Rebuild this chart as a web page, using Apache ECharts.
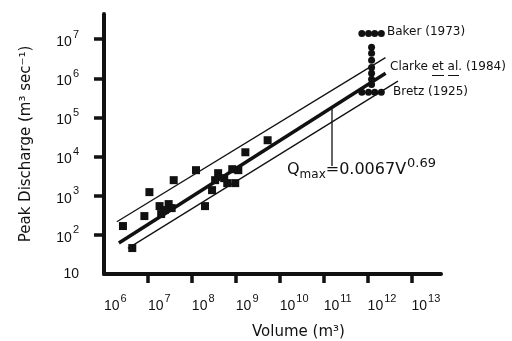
<!DOCTYPE html>
<html><head><meta charset="utf-8">
<script src="https://cdn.jsdelivr.net/npm/echarts@6/dist/echarts.min.js"></script>
<style>html,body{margin:0;padding:0;background:#fff}#c{width:512px;height:341px}</style>
</head><body><div id="c"></div>
<script>
// Flood data points (volume m^3, peak discharge m^3/s)
const pointVolumes = [2.7e6, 4.4e6, 8.3e6, 1.08e7, 1.84e7, 2.4e7, 2.96e7, 3.47e7, 2.0e7, 3.86e7, 1.24e8, 1.99e8, 2.88e8, 3.38e8, 3.96e8, 5.44e8, 6.38e8, 8.3e8, 1.14e9, 9.7e8, 1.65e9, 5.3e9];
const pointDischarges = [168, 46, 302, 1236, 543, 430, 611, 483, 340, 2500, 4500, 543, 1390, 2500, 3770, 2810, 2100, 4770, 4500, 2100, 12900, 26200];
// Missoula flood estimates
const bakerVolumes = [7.4e11, 1.05e12, 1.45e12, 2.05e12];
const bakerDischarges = [1.4e7, 1.4e7, 1.4e7, 1.4e7];
const clarkeVolumes = [1.23e12, 1.23e12, 1.23e12, 1.23e12, 1.23e12, 1.23e12, 1.23e12];
const clarkeDischarges = [6.2e6, 4.4e6, 2.9e6, 1.9e6, 1.35e6, 9.4e5, 7.0e5];
const bretzVolumes = [7.4e11, 1.05e12, 1.45e12, 2.05e12];
const bretzDischarges = [4.4e5, 4.4e5, 4.4e5, 4.4e5];
// Regression line and envelope (end points)
const fitVolumes = [2.18e6, 2.57e12];
const fitDischarges = [61.8, 1.35e6];
const upperVolumes = [1.96e6, 2.55e12];
const upperDischarges = [216, 3.37e6];
const lowerVolumes = [3.5e6, 4.9e12];
const lowerDischarges = [45.3, 8.5e5];
// Axis ticks
const xTickValues = [1e6, 1e7, 1e8, 1e9, 1e10, 1e11, 1e12, 1e13];
const yTickValues = [1e1, 1e2, 1e3, 1e4, 1e5, 1e6, 1e7];

const pairs = (xs, ys) => xs.map((x, i) => [x, ys[i]]);
const FONT = 'Liberation Sans, Arial, sans-serif';
const WFONT = 'DejaVu Sans, sans-serif';
const expLabel = v => {
  const e = Math.round(Math.log10(v));
  return e === 1 ? '{b|10}' : '{b|10}{s|' + e + '}';
};
const rich = {
  b: {fontSize: 14, fontFamily: FONT, color: '#111', verticalAlign: 'bottom'},
  s: {fontSize: 11, fontFamily: FONT, color: '#111', verticalAlign: 'bottom', padding: [0, 0, 9, 1]}
};
const dot = {color: '#111', opacity: 1};

const chart = echarts.init(document.getElementById('c'), null, {renderer: 'canvas'});
chart.setOption({
  animation: false,
  backgroundColor: '#fff',
  grid: {left: 104, right: 71, top: 14, bottom: 67},
  xAxis: {
    type: 'log', logBase: 10, min: 1e6, max: 4.68e13,
    axisLine: {lineStyle: {color: '#111', width: 4}},
    axisTick: {show: true, inside: false, length: 9, lineStyle: {color: '#111', width: 3.5},
      customValues: xTickValues.slice(1)},
    axisLabel: {formatter: expLabel, rich: rich, margin: 19, align: 'left',
      customValues: xTickValues},
    splitLine: {show: false}
  },
  yAxis: {
    type: 'log', logBase: 10, min: 10, max: 4.4e7,
    axisLine: {lineStyle: {color: '#111', width: 4}},
    axisTick: {show: true, inside: false, length: 10, lineStyle: {color: '#111', width: 3.5},
      customValues: yTickValues.slice(1)},
    axisLabel: {formatter: expLabel, rich: rich, margin: 25,
      customValues: yTickValues},
    splitLine: {show: false},
    name: 'Peak Discharge (m³ sec⁻¹)', nameLocation: 'middle', nameGap: 70, nameRotate: 90,
    nameTextStyle: {fontSize: 15, fontFamily: WFONT, color: '#111'}
  },
  series: [
    {type: 'line', data: pairs(upperVolumes, upperDischarges), symbol: 'none', lineStyle: {color: '#111', width: 1.3}, z: 2},
    {type: 'line', data: pairs(fitVolumes, fitDischarges), symbol: 'none', lineStyle: {color: '#111', width: 3.5}, z: 2},
    {type: 'line', data: pairs(lowerVolumes, lowerDischarges), symbol: 'none', lineStyle: {color: '#111', width: 1.3}, z: 2},
    {type: 'scatter', data: pairs(pointVolumes, pointDischarges), symbol: 'rect', symbolSize: 8, itemStyle: dot, z: 3},
    {type: 'scatter', data: pairs(bakerVolumes, bakerDischarges), symbol: 'circle', symbolSize: 7, itemStyle: dot, z: 3},
    {type: 'scatter', data: pairs(clarkeVolumes, clarkeDischarges), symbol: 'circle', symbolSize: 7, itemStyle: dot, z: 3},
    {type: 'scatter', data: pairs(bretzVolumes, bretzDischarges), symbol: 'circle', symbolSize: 7, itemStyle: dot, z: 3}
  ],
  graphic: [
    {type: 'text', left: 252, top: 325, style: {text: 'Volume (m³)', fontSize: 15, fontFamily: WFONT, fill: '#111'}},
    {type: 'text', left: 387, top: 26, style: {text: 'Baker (1973)', fontSize: 12, fontFamily: WFONT, fill: '#111'}},
    {type: 'text', left: 390, top: 61, style: {text: 'Clarke et al. (1984)', fontSize: 12, fontFamily: WFONT, fill: '#111'}},
    {type: 'line', shape: {x1: 432, y1: 75.5, x2: 444, y2: 75.5}, style: {stroke: '#111', lineWidth: 1}},
    {type: 'line', shape: {x1: 448, y1: 75.5, x2: 459, y2: 75.5}, style: {stroke: '#111', lineWidth: 1}},
    {type: 'text', left: 393, top: 86, style: {text: 'Bretz (1925)', fontSize: 12, fontFamily: WFONT, fill: '#111'}},
    {type: 'line', shape: {x1: 332, y1: 108, x2: 332, y2: 166}, style: {stroke: '#111', lineWidth: 1.3}},
    {type: 'text', left: 287, top: 157, style: {
      text: '{q|Q}{sub|max}{t|=0.0067V}{sup|0.69}',
      rich: {
        q: {fontSize: 16, fontFamily: WFONT, fill: '#111', verticalAlign: 'bottom', padding: [0, 0, 3, 0]},
        sub: {fontSize: 12, fontFamily: WFONT, fill: '#111', verticalAlign: 'bottom'},
        t: {fontSize: 16, fontFamily: WFONT, fill: '#111', verticalAlign: 'bottom', padding: [0, 0, 3, 0]},
        sup: {fontSize: 13, fontFamily: WFONT, fill: '#111', verticalAlign: 'bottom', padding: [0, 0, 11, 1]}
      }
    }}
  ]
});
</script></body></html>
